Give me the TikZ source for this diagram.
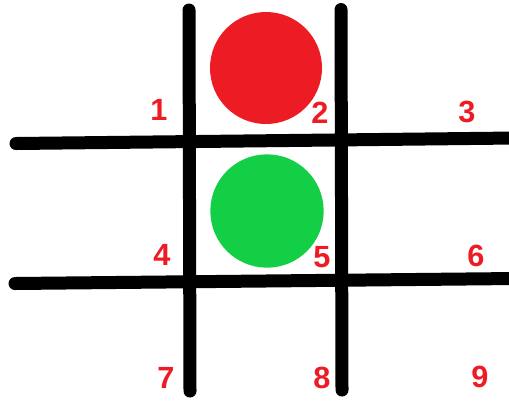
\documentclass[tikz,border=0pt]{standalone}
\usepackage{fontspec}
\setmainfont{Liberation Sans}
\usepackage{xcolor}
\usetikzlibrary{positioning,calc}

\definecolor{paintred}{RGB}{237,28,36}
\definecolor{paintgreen}{RGB}{18,207,70}

\begin{document}
\begin{tikzpicture}[
    x=0.75pt, y=-0.75pt,
    gridline/.style={line width=9.75pt, line cap=round, black},
    disc/.style={circle, minimum size=#1, inner sep=0pt},
    num/.style={text=paintred, font=\fontsize{23}{23}\selectfont\bfseries, inner sep=0pt},
]
\useasboundingbox (0,0) rectangle (509,401);

% Grid end points
\coordinate (v1top) at (189,10);
\coordinate (v1bot) at (190,391);
\coordinate (v2top) at (341,9.5);
\coordinate (v2bot) at (342,390);
\coordinate (h1left) at (16,143.5);
\coordinate (h1right) at (515,138);
\coordinate (h2left) at (15,283.5);
\coordinate (h2right) at (515,278.5);

% Grid
\draw[gridline] (v1top) -- (v1bot);
\draw[gridline] (v2top) -- (v2bot);
\draw[gridline] (h1left) -- (h1right);
\draw[gridline] (h2left) -- (h2right);

% Discs
\node[disc=84pt, fill=paintred] (reddisc) at (266,68) {};
\node[disc=85pt, fill=paintgreen] (greendisc) at (267,211) {};

% Cell numbers
\node[num] (n1) at (159,110) {1};
\node[num] (n2) at (320,113) {2};
\node[num] (n3) at (467,112) {3};
\node[num] (n4) at (162,255) {4};
\node[num] (n5) at (322,257) {5};
\node[num] (n6) at (476,256) {6};
\node[num] (n7) at (166,378) {7};
\node[num] (n8) at (322,378) {8};
\node[num] (n9) at (480,377) {9};

\end{tikzpicture}
\end{document}
